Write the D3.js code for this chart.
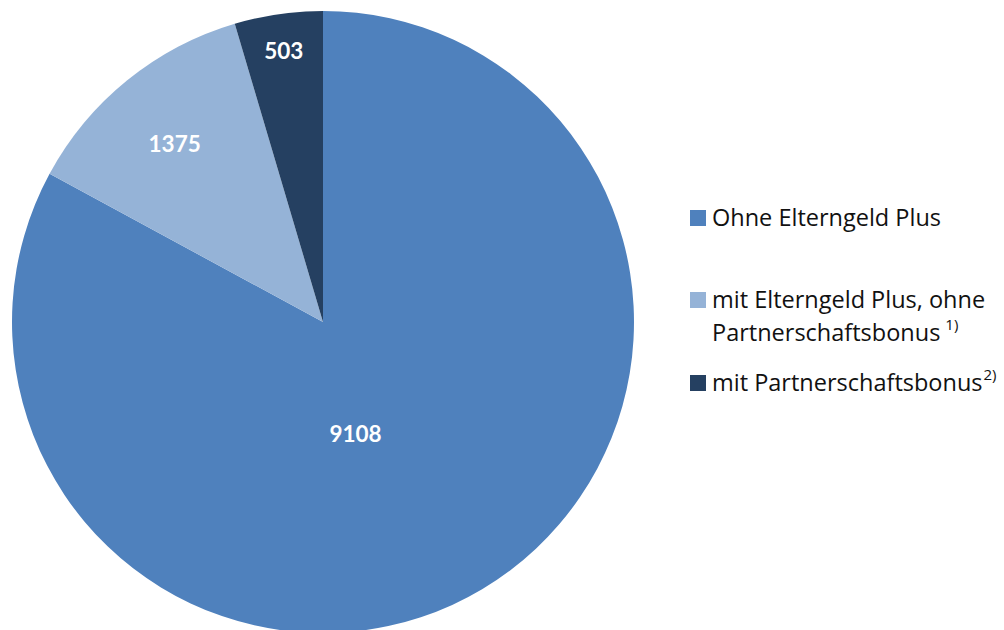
<!DOCTYPE html>
<html><head><meta charset="utf-8">
<script src="https://cdn.jsdelivr.net/npm/d3@7"></script>
<style>
html,body{margin:0;padding:0;background:#fff;}
svg{display:block;font-family:"Open Sans","Noto Sans",sans-serif;}
</style></head>
<body>
<svg id="chart" width="1004" height="630"></svg>
<script>
const categories = ["Ohne Elterngeld Plus", "mit Elterngeld Plus, ohne Partnerschaftsbonus", "mit Partnerschaftsbonus"];
const values = [9108, 1375, 503];
const colors = ["#4F81BD", "#95B3D7", "#254061"];
const legendLines = [["Ohne Elterngeld Plus"], ["mit Elterngeld Plus, ohne", "Partnerschaftsbonus"], ["mit Partnerschaftsbonus"]];
const legendSup = ["", "1)", "2)"];

const svg = d3.select("#chart");
const cx = 323, cy = 322, R = 311;
const data = categories.map((c, i) => ({cat: c, value: values[i], color: colors[i]}));
const pie = d3.pie().value(d => d.value).sort(null);
const arcs = pie(data);
const arc = d3.arc().innerRadius(0).outerRadius(R);
const g = svg.append("g").attr("transform", `translate(${cx},${cy})`);
g.selectAll("path").data(arcs).enter().append("path")
  .attr("d", arc).attr("fill", d => d.data.color);

// label placement (fraction of radius, angular shift in degrees)
const labelR = [0.376, 0.745, 0.88];
const labelShift = [14.6, -0.8, 0];
g.selectAll("text.lbl").data(arcs).enter().append("text")
  .attr("class", "lbl")
  .attr("transform", (d, i) => {
    const a = (d.startAngle + d.endAngle) / 2 + labelShift[i] * Math.PI / 180;
    const r = labelR[i] * R;
    return `translate(${r * Math.sin(a)},${-r * Math.cos(a)})`;
  })
  .attr("text-anchor", "middle").attr("dy", "0.36em")
  .attr("fill", "#fff").attr("font-weight", "bold").attr("font-size", 22.5)
  .style("font-family", "Lato, 'Open Sans', sans-serif")
  .text(d => d.data.value);

// legend
const legendY = [218, 300, 383];
const lg = svg.append("g");
legendLines.forEach((lines, i) => {
  lg.append("rect").attr("x", 690).attr("y", legendY[i] - 8).attr("width", 16).attr("height", 16).attr("fill", colors[i]);
  const t = lg.append("text").attr("x", 712).attr("y", legendY[i])
    .attr("font-size", 23.5).attr("fill", "#111");
  lines.forEach((ln, j) => {
    t.append("tspan").attr("x", 712).attr("dy", j === 0 ? "0.35em" : "1.4em").text(ln);
  });
  if (legendSup[i]) {
    t.append("tspan").attr("dx", i === 1 ? 5 : 1).attr("dy", "-0.75em").attr("font-size", 15).text(legendSup[i]);
  }
});
</script>
</body></html>
